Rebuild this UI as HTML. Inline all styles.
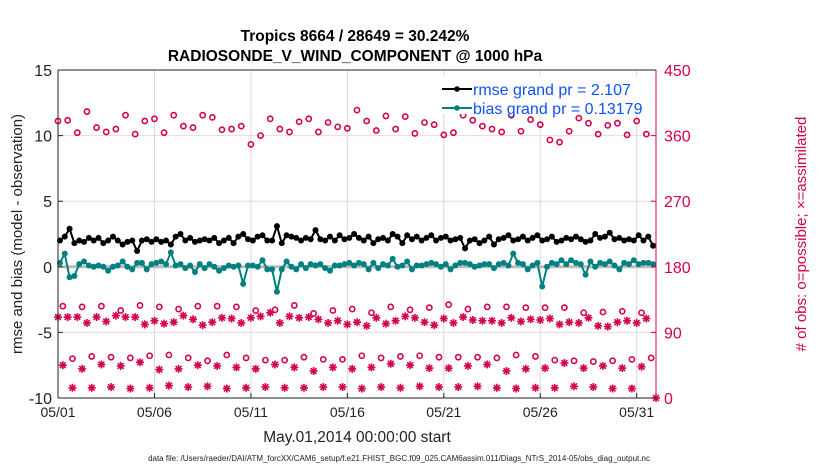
<!DOCTYPE html>
<html><head><meta charset="utf-8"><style>
body{margin:0;background:#fff;}
svg{display:block;font-family:"Liberation Sans",sans-serif;}
</style></head><body>
<svg id="c" width="830" height="470" xmlns="http://www.w3.org/2000/svg">
<rect width="830" height="470" fill="#fff"/>
<text x="355" y="41" text-anchor="middle" font-size="15.5" font-weight="bold">Tropics 8664 / 28649 = 30.242%</text>
<text x="355" y="61" text-anchor="middle" font-size="15.5" font-weight="bold">RADIOSONDE_V_WIND_COMPONENT @ 1000 hPa</text>
<g id="grid"></g>
<g id="marks"></g>
<g id="axes"></g>
<text transform="translate(22,234) rotate(-90)" text-anchor="middle" font-size="15" fill="#222">rmse and bias (model - observation)</text>
<text transform="translate(806,234) rotate(-90)" text-anchor="middle" font-size="15" fill="#d4004e"># of obs: o=possible; ×=assimilated</text>
<text x="357" y="442" text-anchor="middle" font-size="15.5" fill="#222">May.01,2014 00:00:00 start</text>
<text x="399" y="461" text-anchor="middle" font-size="8" fill="#222">data file: /Users/raeder/DAI/ATM_forcXX/CAM6_setup/f.e21.FHIST_BGC.f09_025.CAM6assim.011/Diags_NTrS_2014-05/obs_diag_output.nc</text>
<g>
<rect x="437" y="76" width="214" height="38" fill="#fff"/>
<line x1="442" y1="89" x2="472" y2="89" stroke="#000" stroke-width="2"/><circle cx="457" cy="89" r="2.8" fill="#000"/>
<text x="473" y="95" font-size="16" fill="#1050ff">rmse grand pr = 2.107</text>
<line x1="442" y1="108" x2="472" y2="108" stroke="#008080" stroke-width="2"/><circle cx="457" cy="108" r="2.8" fill="#008080"/>
<text x="473" y="114" font-size="16" fill="#1050ff">bias grand pr = 0.13179</text>
</g>
</svg>
<script>
const xTickLabels=["05/01","05/06","05/11","05/16","05/21","05/26","05/31"];
const yTicks=[-10,-5,0,5,10,15];
const rTicks=[0,90,180,270,360,450];
const rmse=[2.0,2.3,2.9,1.8, 2.0,1.9,2.2,2.0, 2.2,1.8,2.0,2.3, 2.0,1.7,1.9,2.0, 1.2,2.0,2.1,1.9, 2.1,1.9,2.0,1.7, 2.3,2.5,2.0,2.2, 1.9,2.0,2.1,2.0, 2.2,1.8,2.0,2.2, 1.8,2.3,2.5,2.1, 2.0,2.3,2.4,2.0, 2.0,3.1,1.8,2.4, 2.3,2.2,2.0,2.2, 2.1,2.8,2.1,2.0, 2.3,2.0,2.4,2.1, 2.2,2.5,2.2,2.0, 2.3,1.8,2.1,2.2, 2.0,2.5,2.3,1.8, 2.4,2.1,2.3,2.0, 2.2,2.4,2.0,2.2, 2.3,2.0,2.1,2.2, 1.4,2.0,2.1,1.8, 2.0,2.3,1.7,2.1, 2.2,2.4,2.0,2.1, 2.3,2.0,2.2,2.4, 2.0,2.1,2.3,1.9, 2.0,2.2,2.1,2.3, 2.1,1.9,2.0,2.5, 2.2,2.3,2.6,2.1, 2.2,2.0,2.1,2.0, 2.4,2.0,2.3,1.6];
const bias=[0.3,1.0,-0.8,-0.7, 0.2,0.4,0.1,0.0, 0.1,0.0,-0.3,0.0, 0.1,0.4,0.0,-0.2, 0.3,0.3,-0.2,0.2, 0.3,0.4,0.2,1.1, 0.1,0.2,-0.1,0.1, -0.4,0.2,-0.1,0.2, 0.0,-0.3,-0.1,0.1, 0.0,0.1,-1.3,0.1, 0.1,0.0,0.5,-0.2, -0.2,-1.9,-0.2,0.4, 0.0,-0.2,0.2,-0.1, 0.2,0.1,0.2,-0.1, -0.3,0.1,0.1,0.2, 0.3,0.1,0.3,0.2, -0.2,0.3,-0.1,0.2, 0.1,0.6,0.0,0.1, 0.4,-0.2,0.1,0.1, 0.2,0.3,0.2,0.0, 0.2,-0.2,0.1,0.3, 0.3,0.2,0.0,0.1, 0.2,0.2,-0.1,0.2, 0.3,0.1,1.0,0.3, 0.2,-0.2,0.1,0.3, -1.5,0.0,0.3,0.2, 0.5,0.2,0.5,0.3, 0.2,-0.6,0.4,0.0, 0.3,0.2,0.4,0.1, -0.2,0.3,0.2,0.5, 0.2,0.3,0.3,0.2];
const possibleHalfDay=[380,381,364,393,371,365,369,388,362,380,383,364,388,373,371,388,385,368,369,373,348,360,383,369,365,379,383,365,378,372,370,395,380,367,387,369,386,363,378,375,361,364,388,381,373,369,365,388,366,382,375,354,351,366,384,377,362,374,377,361,380,362];
const assimHalfDay=[111,111,111,103,111,105,113,111,111,101,106,102,104,113,108,100,104,110,109,103,110,112,117,103,112,110,111,108,103,106,101,104,99,110,102,106,112,110,104,100,109,103,111,107,106,106,103,110,105,108,107,109,101,104,103,110,99,98,104,106,103,109];
const possibleDaily=[126,125,126,120,127,125,122,126,126,125,120,121,127,116,120,122,117,125,121,124,128,122,125,125,124,124,124,117,118,119,117];
const assimDaily=[45,40,46,44,49,39,40,45,44,42,40,46,42,37,42,40,42,47,45,41,41,44,46,37,40,41,48,41,44,41,43];
const possibleDaily2=[54,57,56,55,58,59,55,51,59,55,52,52,56,53,53,58,55,57,58,56,56,56,55,59,57,52,51,50,51,53,55];
const assimDaily2=[14,14,15,13,14,17,15,16,13,14,15,14,14,15,15,13,15,14,16,15,15,16,14,13,14,14,16,15,13,13,0];
const NS="http://www.w3.org/2000/svg";
const X0=58,X1=656,Y0=398,Y1=70,DAYS=31;
const xs=t=>X0+(t/DAYS)*(X1-X0);
const ys=v=>Y0-(v+10)/25*(Y0-Y1);
const yr=v=>Y0-v/450*(Y0-Y1);
const CR="#d4004e";
function mk(tag,a,p){const e=document.createElementNS(NS,tag);for(const k in a)e.setAttribute(k,a[k]);p.appendChild(e);return e;}
const grid=document.getElementById('grid'),marks=document.getElementById('marks'),axes=document.getElementById('axes');
xTickLabels.forEach((l,i)=>{const x=xs(i*5);
 const g=mk('line',{x1:x,x2:x,y1:Y1,y2:Y0,stroke:'#d8d8d8','stroke-width':1},grid);
 
 
 mk('line',{x1:x,x2:x,y1:Y0,y2:Y0-5,stroke:'#222'},axes);
 const t=mk('text',{x:x,y:Y0+19,'text-anchor':'middle','font-size':14,fill:'#222'},axes);t.textContent=l;
 
 
});
yTicks.forEach(v=>{const y=ys(v);
 if(v>-10&&v<15){const g=mk('line',{x1:X0,x2:X1,y1:y,y2:y,stroke:'#f0d4de','stroke-width':1},grid);
 
 }
 mk('line',{x1:X0,x2:X0+5,y1:y,y2:y,stroke:'#222'},axes);
 const t=mk('text',{x:X0-6,y:y+6,'text-anchor':'end','font-size':16,fill:'#222'},axes);t.textContent=v;
 
 
});
rTicks.forEach(v=>{const y=yr(v);
 mk('line',{x1:X1,x2:X1-5,y1:y,y2:y,stroke:CR},axes);
 const t=mk('text',{x:X1+8,y:y+6,'font-size':16,fill:CR},axes);t.textContent=v;
 
 
});
mk('line',{x1:X0,x2:X1,y1:Y0,y2:Y0,stroke:'#222'},axes);
mk('line',{x1:X0,x2:X1,y1:Y1,y2:Y1,stroke:'#222'},axes);
mk('line',{x1:X0,x2:X0,y1:Y1,y2:Y0,stroke:'#222'},axes);
mk('line',{x1:X1,x2:X1,y1:Y1,y2:Y0,stroke:CR},axes);
const z=mk('line',{x1:X0,x2:X1,y1:ys(0),y2:ys(0),stroke:'#bbb','stroke-width':3},marks);


function circ(t,v,name){const c=mk('circle',{cx:xs(t),cy:yr(v),r:2.6,fill:'none',stroke:CR,'stroke-width':1.6},marks);
 
 }
function star(t,v,name){const x=xs(t),y=yr(v),g=mk('g',{stroke:CR,'stroke-width':1.6},marks);
 
 
 [[0,4],[4,0],[2.9,2.9],[2.9,-2.9]].forEach(d=>mk('line',{x1:x-d[0],y1:y-d[1],x2:x+d[0],y2:y+d[1]},g));}
possibleHalfDay.forEach((v,i)=>circ(i*0.5,v,'possible-obs-point'));
assimHalfDay.forEach((v,i)=>star(i*0.5,v,'assimilated-obs-point'));
possibleDaily.forEach((v,i)=>circ(i+0.25,v,'possible-obs-point'));
assimDaily.forEach((v,i)=>star(i+0.25,v,'assimilated-obs-point'));
possibleDaily2.forEach((v,i)=>circ(i+0.75,v,'possible-obs-point'));
assimDaily2.forEach((v,i)=>star(i===30?31:i+0.75,v,'assimilated-obs-point'));
function line(arr,col,name){const pts=arr.map((v,i)=>xs(i*0.25+0.1)+','+ys(v)).join(' ');
 const p=mk('polyline',{points:pts,fill:'none',stroke:col,'stroke-width':2},marks);
 
 
 arr.forEach((v,i)=>{const c=mk('circle',{cx:xs(i*0.25+0.1),cy:ys(v),r:3,fill:col},marks);
 
 });}
line(bias,'#008080','bias');
line(rmse,'#000','rmse');
</script>
</body></html>
